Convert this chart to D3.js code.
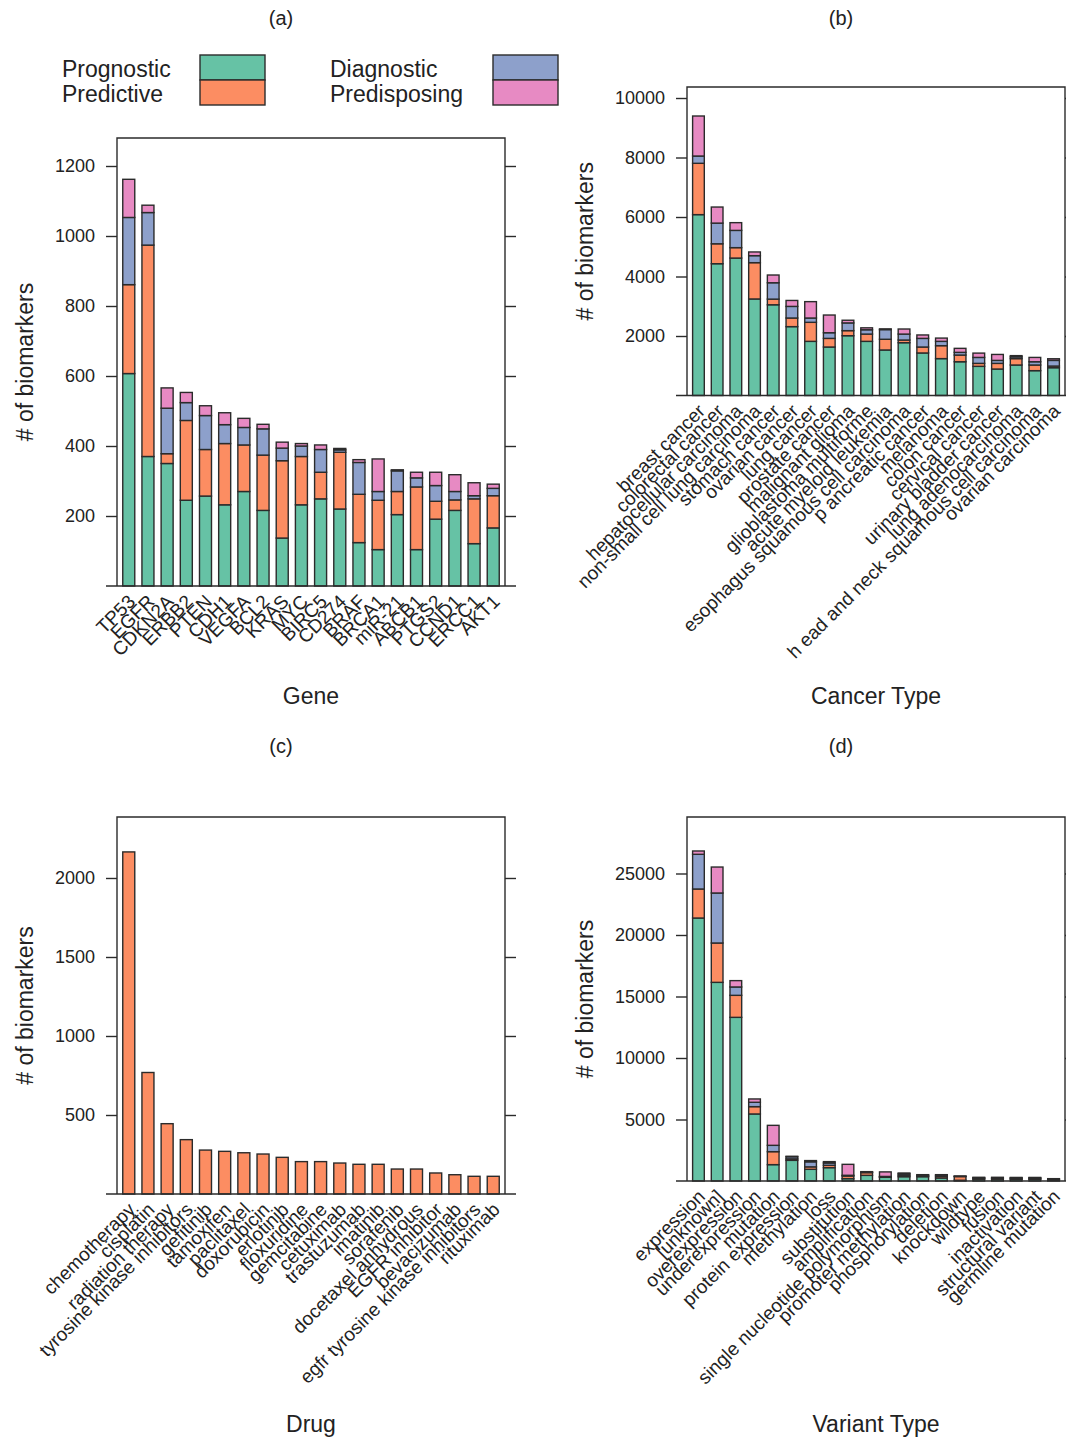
<!DOCTYPE html>
<html>
<head>
<meta charset="utf-8">
<script src="https://cdn.jsdelivr.net/npm/d3@7"></script>
<style>
  body { margin: 0; background: #fff; }
  svg { display: block; font-family: "Liberation Sans", Arial, sans-serif; }
</style>
</head>
<body>
<svg id="fig" width="1066" height="1439"></svg>
<script>
// stack order: prognostic, predictive, diagnostic, predisposing
var layerKeys = ['prognostic', 'predictive', 'diagnostic', 'predisposing'];
var layerColors = ['#66c2a5', '#fc8d62', '#8da0cb', '#e78ac3'];

// (a) genes
var geneNames = ['TP53', 'EGFR', 'CDKN2A', 'ERBB2', 'PTEN', 'CDH1', 'VEGFA', 'BCL2', 'KRAS', 'MYC',
  'BIRC5', 'CD274', 'BRAF', 'BRCA1', 'miR-21', 'ABCB1', 'PTGS2', 'CCND1', 'ERCC1', 'AKT1'];
var genePrognostic   = [607, 370, 350, 245, 257, 232, 270, 216, 137, 232, 249, 220, 124, 104, 204, 104, 191, 216, 121, 166];
var genePredictive   = [254, 604,  28, 228, 133, 175, 133, 158, 221, 138,  76, 162, 138, 141,  66, 179,  51,  30, 128,  92];
var geneDiagnostic   = [192,  93, 130,  51,  97,  54,  50,  75,  36,  30,  65,   7,  91,  25,  59,  26,  45,  24,   9,  21];
var genePredisposing = [109,  21,  58,  29,  28,  34,  26,  13,  17,   7,  13,   4,   8,  93,   3,  16,  38,  48,  37,  12];

// (b) cancer types
var cancerNames = ['breast cancer', 'colorectal cancer', 'hepatocellular carcinoma', 'non-small cell lung carcinoma',
  'stomach cancer', 'ovarian cancer', 'lung cancer', 'prostate cancer', 'malignant glioma', 'glioblastoma multiforme',
  'acute myeloid leukemia', 'esophagus squamous cell carcinoma', 'p ancreatic cancer', 'melanoma', 'colon cancer',
  'cervical cancer', 'urinary bladder cancer', 'lung adenocarcinoma', 'h ead and neck squamous cell carcinoma', 'ovarian carcinoma'];
var cancerPrognostic   = [6080, 4430, 4620, 3245, 3050, 2315, 1820, 1630, 2010, 1820, 1530, 1775, 1430, 1240, 1135, 980, 890, 1025, 835, 935];
var cancerPredictive   = [1725,  670,  350, 1220,  190,  290,  640,  290,  170,  245,  360,   90,  200,  435,  225, 100, 190,  215, 190,  55];
var cancerDiagnostic   = [ 245,  695,  580,  235,  550,  390,  145,  190,  260,  145,  325,  200,  290,  145,   90, 200, 100,   60, 110, 190];
var cancerPredisposing = [1345,  540,  260,  125,  260,  200,  550,  595,   90,   65,   25,  170,  115,  110,  135, 145, 200,   40, 145,  55];

// (c) drugs (predictive only)
var drugNames = ['chemotherapy', 'cisplatin', 'radiation therapy', 'tyrosine kinase inhibitors', 'gefitinib', 'tamoxifen',
  'paclitaxel', 'doxorubicin', 'erlotinib', 'floxuridine', 'gemcitabine', 'cetuximab', 'trastuzumab', 'imatinib',
  'sorafenib', 'docetaxel anhydrous', 'EGFR inhibitor', 'bevacizumab', 'egfr tyrosine kinase inhibitors', 'rituximab'];
var drugPredictive = [2165, 769, 445, 344, 278, 270, 261, 253, 232, 205, 205, 196, 188, 188, 158, 158, 133, 122, 112, 112];

// (d) variant types
var variantNames = ['expression', '[unknown]', 'overexpression', 'underexpression', 'mutation', 'protein expression',
  'methylation', 'loss', 'substitution', 'amplification', 'single nucleotide polymorphism', 'promoter methylation',
  'phosphorylation', 'deletion', 'knockdown', 'wildtype', 'fusion', 'inactivation', 'structural variant', 'germline mutation'];
var variantPrognostic   = [21380, 16150, 13305, 5450, 1330, 1680, 950, 1085, 190, 460, 300, 350, 350, 245,  60, 150, 150, 140, 140,  90];
var variantPredictive   = [ 2360,  3200,  1790,  595, 1055,  120, 200,  190, 215, 220,  30, 120,  60, 130, 300,  60,  60,  60,  60,  40];
var variantDiagnostic   = [ 2820,  4065,   680,  355,  515,  170, 410,  190,  60,  40,  40, 120,  70, 100,  30,  60,  60,  60,  60,  40];
var variantPredisposing = [  270,  2110,   515,  270, 1625,   40, 100,  110, 890,  40, 370,  60,  35,  40,  10,  30,  30,  30,  30,  20];

var svg = d3.select('#fig');
var ink = '#2b2b2b';

function rows(names, cols) {
  return names.map(function(n, i) {
    var r = { name: n };
    layerKeys.forEach(function(k, j) { r[k] = cols[j] ? cols[j][i] : 0; });
    return r;
  });
}

function panel(p) {
  var g = svg.append('g').attr('class', 'panel');
  var x = d3.scaleBand().domain(p.data.map(function(d) { return d.name; }))
    .range([p.left, p.right]).paddingInner(0.374).paddingOuter(0.3);
  var y = d3.scaleLinear().domain([0, p.yMax]).range([p.bottom, p.top]);

  var series = d3.stack().keys(layerKeys)(p.data);
  g.selectAll('g.layer').data(series).enter().append('g')
    .attr('class', 'layer')
    .attr('fill', function(s, i) { return layerColors[i]; })
    .selectAll('rect').data(function(s) { return s.filter(function(d) { return d[1] > d[0]; }); })
    .enter().append('rect')
    .attr('x', function(d) { return x(d.data.name); })
    .attr('width', x.bandwidth())
    .attr('y', function(d) { return y(d[1]); })
    .attr('height', function(d) { return y(d[0]) - y(d[1]); })
    .attr('stroke', ink).attr('stroke-width', 1.4);

  // frame
  g.append('path')
    .attr('d', 'M' + p.left + ',' + p.bottom + 'V' + p.top + 'H' + p.right + 'V' + p.bottom)
    .attr('fill', 'none').attr('stroke', ink).attr('stroke-width', 1.4);
  g.append('line')
    .attr('x1', p.left - 11).attr('x2', p.right + 11)
    .attr('y1', p.bottom).attr('y2', p.bottom)
    .attr('stroke', ink).attr('stroke-width', 1.6);

  var left = g.append('g').attr('transform', 'translate(' + p.left + ',0)')
    .call(d3.axisLeft(y).tickValues(p.ticks).tickSize(11).tickPadding(11).tickFormat(d3.format('d')));
  var right = g.append('g').attr('transform', 'translate(' + p.right + ',0)')
    .call(d3.axisRight(y).tickValues(p.ticks).tickSize(11).tickFormat(''));
  [left, right].forEach(function(a) {
    a.select('.domain').remove();
    a.selectAll('line').attr('stroke', ink).attr('stroke-width', 1.4);
  });
  left.selectAll('text').attr('font-size', 18).attr('fill', '#222')
    .attr('font-family', '"Liberation Sans", Arial, sans-serif');

  // rotated category labels
  g.selectAll('text.cat').data(p.data).enter().append('text')
    .attr('class', 'cat')
    .attr('transform', function(d) {
      return 'translate(' + (x(d.name) + x.bandwidth() / 2 + 3) + ',' + (p.bottom + 12) + ') rotate(-45)';
    })
    .attr('text-anchor', 'end').attr('dy', '0.35em')
    .attr('font-size', 19).attr('fill', '#222')
    .text(function(d) { return d.name; });

  var cx = (p.left + p.right) / 2;
  g.append('text').attr('x', p.titleX).attr('y', p.titleY).attr('text-anchor', 'middle')
    .attr('font-size', 20).attr('fill', '#222').text(p.title);
  g.append('text').attr('x', cx).attr('y', p.xTitleY).attr('text-anchor', 'middle')
    .attr('font-size', 23).attr('fill', '#222').text(p.xTitle);
  g.append('text')
    .attr('transform', 'translate(' + p.yTitleX + ',' + ((p.top + p.bottom) / 2) + ') rotate(-90)')
    .attr('text-anchor', 'middle').attr('dy', '0.35em')
    .attr('font-size', 23).attr('fill', '#222').text('# of biomarkers');
}

panel({
  data: rows(geneNames, [genePrognostic, genePredictive, geneDiagnostic, genePredisposing]),
  left: 117, right: 505, top: 138, bottom: 586, yMax: 1280,
  ticks: [200, 400, 600, 800, 1000, 1200],
  title: '(a)', titleX: 281, titleY: 25, xTitle: 'Gene', xTitleY: 704, yTitleX: 25
});
panel({
  data: rows(cancerNames, [cancerPrognostic, cancerPredictive, cancerDiagnostic, cancerPredisposing]),
  left: 687, right: 1065, top: 87, bottom: 395.5, yMax: 10370,
  ticks: [2000, 4000, 6000, 8000, 10000],
  title: '(b)', titleX: 841, titleY: 25, xTitle: 'Cancer Type', xTitleY: 704, yTitleX: 585
});
panel({
  data: rows(drugNames, [null, drugPredictive, null, null]),
  left: 117, right: 505, top: 817, bottom: 1194, yMax: 2386,
  ticks: [500, 1000, 1500, 2000],
  title: '(c)', titleX: 281, titleY: 753, xTitle: 'Drug', xTitleY: 1432, yTitleX: 25
});
panel({
  data: rows(variantNames, [variantPrognostic, variantPredictive, variantDiagnostic, variantPredisposing]),
  left: 687, right: 1065, top: 817, bottom: 1181, yMax: 29593,
  ticks: [5000, 10000, 15000, 20000, 25000],
  title: '(d)', titleX: 841, titleY: 753, xTitle: 'Variant Type', xTitleY: 1432, yTitleX: 585
});

// legend
var legendLabels = ['Prognostic', 'Predictive', 'Diagnostic', 'Predisposing'];
var legend = svg.append('g').attr('class', 'legend');
legendLabels.forEach(function(lab, i) {
  var col = Math.floor(i / 2), row = i % 2;
  var tx = col === 0 ? 62 : 330, sx = col === 0 ? 200 : 493;
  legend.append('text').attr('x', tx).attr('y', 77 + row * 25)
    .attr('font-size', 23).attr('fill', '#222').text(lab);
  legend.append('rect').attr('x', sx).attr('y', 55 + row * 25)
    .attr('width', 65).attr('height', 25)
    .attr('fill', layerColors[i]).attr('stroke', ink).attr('stroke-width', 1.4);
});
</script>
</body>
</html>
